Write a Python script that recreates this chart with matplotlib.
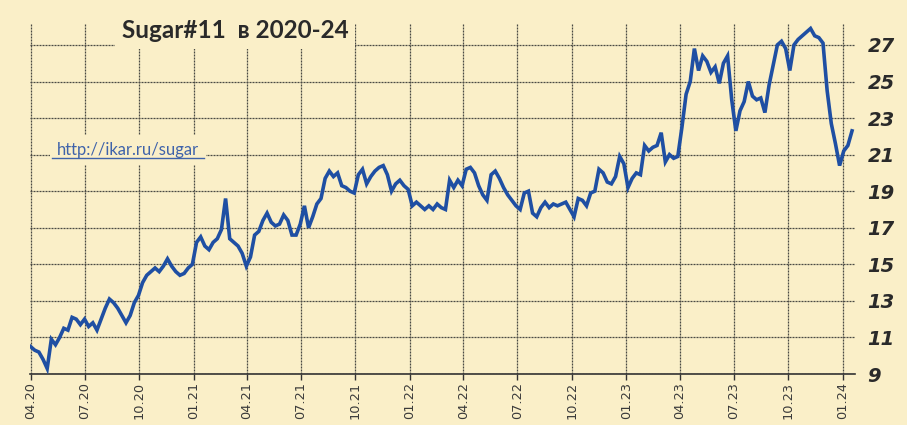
import matplotlib
matplotlib.use("Agg")
import matplotlib.pyplot as plt
import matplotlib.dates as mdates
from matplotlib.lines import Line2D
import pandas as pd

# ---- data (weekly closes, US cents/lb) ----
start_date = "2020-04-01"
prices = [
    10.5, 10.3, 10.2, 9.8, 9.3, 10.9, 10.6, 11.0, 11.5, 11.4,
    12.1, 12.0, 11.7, 12.0, 11.6, 11.8, 11.4, 12.0, 12.6, 13.1,
    12.9, 12.6, 12.2, 11.8, 12.2, 12.9, 13.3, 14.0, 14.4, 14.6,
    14.8, 14.6, 14.9, 15.3, 14.9, 14.6, 14.4, 14.5, 14.8, 15.0,
    16.2, 16.5, 16.0, 15.8, 16.2, 16.4, 16.9, 18.6, 16.4, 16.2,
    16.0, 15.6, 14.9, 15.4, 16.6, 16.8, 17.4, 17.8, 17.3, 17.1,
    17.2, 17.7, 17.4, 16.6, 16.6, 17.2, 18.2, 17.0, 17.6, 18.3,
    18.6, 19.7, 20.1, 19.8, 20.0, 19.3, 19.2, 19.0, 18.9, 19.9,
    20.2, 19.4, 19.8, 20.1, 20.3, 20.4, 19.9, 19.0, 19.4, 19.6,
    19.3, 19.1, 18.2, 18.4, 18.2, 18.0, 18.2, 18.0, 18.3, 18.1,
    18.0, 19.6, 19.2, 19.6, 19.3, 20.2, 20.3, 20.0, 19.3, 18.8,
    18.5, 19.9, 20.1, 19.7, 19.2, 18.8, 18.5, 18.2, 18.0, 18.9,
    19.0, 17.8, 17.6, 18.1, 18.4, 18.1, 18.3, 18.2, 18.3, 18.4,
    18.0, 17.6, 18.6, 18.5, 18.2, 18.9, 19.0, 20.2, 20.0, 19.5,
    19.4, 19.8, 20.9, 20.5, 19.2, 19.7, 20.0, 19.9, 21.5, 21.2,
    21.4, 21.5, 22.2, 20.6, 21.0, 20.8, 20.9, 22.5, 24.3, 25.0,
    26.8, 25.6, 26.4, 26.1, 25.5, 25.8, 24.9, 26.0, 26.4, 24.0,
    22.3, 23.4, 23.9, 25.0, 24.2, 24.0, 24.1, 23.3, 24.8, 25.9,
    27.0, 27.2, 26.8, 25.6, 27.0, 27.3, 27.5, 27.7, 27.9, 27.5,
    27.4, 27.1, 24.5, 22.7, 21.6, 20.4, 21.2, 21.5, 22.3,
]
dates = pd.date_range(start_date, periods=len(prices), freq="7D")
y_ticks = [9, 11, 13, 15, 17, 19, 21, 23, 25, 27]
x_ticks = pd.date_range("2020-04-01", "2024-01-01", freq="QS-JAN")
title_text = "Sugar#11  в 2020-24"
url_text = "http://ikar.ru/sugar"

BG = "#FAEFC8"
LINE = "#1F4FA3"
GRID = "#4A4A44"

fig = plt.figure(figsize=(9.07, 4.25), dpi=100, facecolor=BG)
ax = fig.add_axes([30/907, 51/425, (855-30)/907, (374-23)/425])
ax.set_facecolor(BG)

ax.plot(dates, prices, color=LINE, lw=2.6, solid_joinstyle="miter", zorder=3)

ax.set_xlim(pd.Timestamp("2020-03-31"), pd.Timestamp("2024-01-22"))
ax.set_ylim(9, 28.2)
ax.set_xticks(x_ticks)
ax.xaxis.set_major_formatter(mdates.DateFormatter("%m.%y"))
ax.set_yticks(y_ticks)
ax.yaxis.tick_right()

for s in ["top", "left", "right"]:
    ax.spines[s].set_visible(False)
ax.spines["bottom"].set_color("#333333")
ax.spines["bottom"].set_linewidth(1.2)

ax.grid(True, color=GRID, lw=0.9, ls=(0, (1.6, 0.8)), zorder=1)
ax.tick_params(axis="x", direction="out", length=4, width=1, color="#333333",
               labelrotation=90, labelsize=9.3, labelcolor="#3a3a3a", pad=1.5)
ax.tick_params(axis="y", length=0, pad=9)
for lab in ax.get_yticklabels():
    lab.set_fontsize(14)
    lab.set_fontweight("bold")
    lab.set_fontstyle("italic")
    lab.set_color("#2a2a2a")

fig.text(235/907, 1 - 30/425, title_text, ha="center", va="center",
         fontsize=17.5, fontweight="bold", family="Lato", color="#2a2a2a",
         bbox=dict(facecolor=BG, edgecolor="none", pad=5), zorder=5)

fig.text(128/907, 1 - 150/425, url_text, ha="center", va="center",
         fontsize=12, family="Lato", color="#3F63AA",
         bbox=dict(facecolor=BG, edgecolor="none", pad=5), zorder=5)
fig.add_artist(Line2D([52/907, 204/907], [1 - 158/425, 1 - 158/425],
                      color="#3F63AA", lw=1, zorder=6))

fig.savefig("out.png", dpi=100, facecolor=BG)
